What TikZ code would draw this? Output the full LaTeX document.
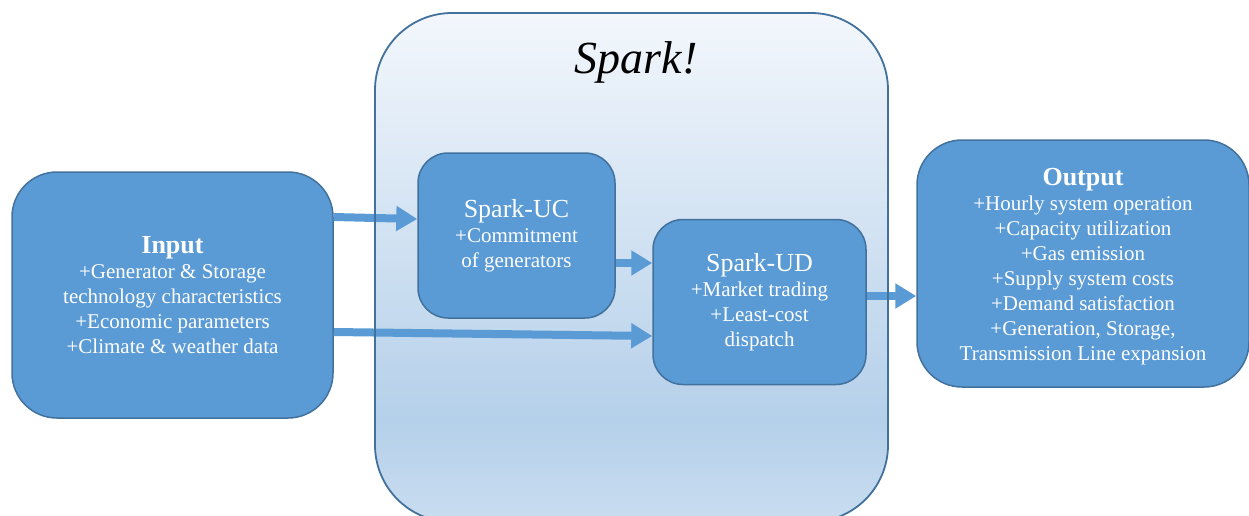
\documentclass[tikz,border=0pt]{standalone}
\usepackage{fontspec}
\setmainfont{Liberation Serif}
\usetikzlibrary{arrows.meta}
\definecolor{boxfill}{HTML}{5B9BD5}
\definecolor{boxline}{HTML}{41719C}
\definecolor{sparktop}{HTML}{F3F7FC}
\definecolor{sparkmid}{HTML}{B5D0EA}
\definecolor{sparkbot}{HTML}{C9DDF0}
\pgfdeclareverticalshading{sparkshade}{100bp}{color(0bp)=(sparkbot); color(25bp)=(sparkbot); color(35bp)=(sparkmid); color(75bp)=(sparktop); color(100bp)=(sparktop)}
\tikzset{
  bluebox/.style={draw=boxline, line width=1.5pt, fill=boxfill, text=white, align=center,
    font=\fontsize{21}{25}\selectfont, inner sep=0pt},
  flow/.style={draw=boxfill, line width=8pt, -{Triangle[length=21pt,width=24pt]}}
}
\begin{document}
\begin{tikzpicture}[x=1pt,y=-1pt]
\clip (0,0) rectangle (1249,515);
\useasboundingbox (0,0) rectangle (1249,515);
% Spark container
\path[shading=sparkshade, rounded corners=77pt] (375,13) rectangle (888,522);
\node (spark) at (636,62) {\fontsize{46}{50}\selectfont\itshape Spark!};
% boxes
\node[bluebox, rounded corners=45pt, minimum width=321pt, minimum height=246pt, text depth=0pt] (input) at (172.5,295)
  {{\fontsize{26}{25}\selectfont\bfseries Input}\\+Generator \& Storage\\technology characteristics\\+Economic parameters\\+Climate \& weather data};
\node[bluebox, rounded corners=30pt, minimum width=197pt, minimum height=165pt] (uc) at (516.5,235.5)
  {{\fontsize{26}{25}\selectfont Spark-UC}\\+Commitment\\of generators};
\node[bluebox, rounded corners=30pt, minimum width=213pt, minimum height=165pt] (ud) at (759.5,302)
  {{\fontsize{26}{25}\selectfont Spark-UD}\\+Market trading\\+Least-cost\\dispatch};
\node[bluebox, rounded corners=45pt, minimum width=332pt, minimum height=247pt] (output) at (1083,263.5) {};
\node[text=white, align=center, font=\fontsize{21}{25}\selectfont, inner sep=0pt] (outtext) at (1083,266.5)
  {{\fontsize{26}{25}\selectfont\bfseries Output}\\+Hourly system operation\\+Capacity utilization\\+Gas emission\\+Supply system costs\\+Demand satisfaction\\+Generation, Storage,\\Transmission Line expansion};
% connectors
\draw[flow] (input.east |- 0,217) -- (uc.west |- 0,219);
\draw[flow] (input.east |- 0,332) -- (ud.west |- 0,336);
\draw[flow] (uc.east |- 0,263) -- (ud.west |- 0,263);
\draw[flow] (ud.east |- 0,296) -- (output.west |- 0,296);
% container border on top
\draw[boxline, line width=1.8pt, rounded corners=77pt] (375,13) rectangle (888,522);
\end{tikzpicture}
\end{document}
